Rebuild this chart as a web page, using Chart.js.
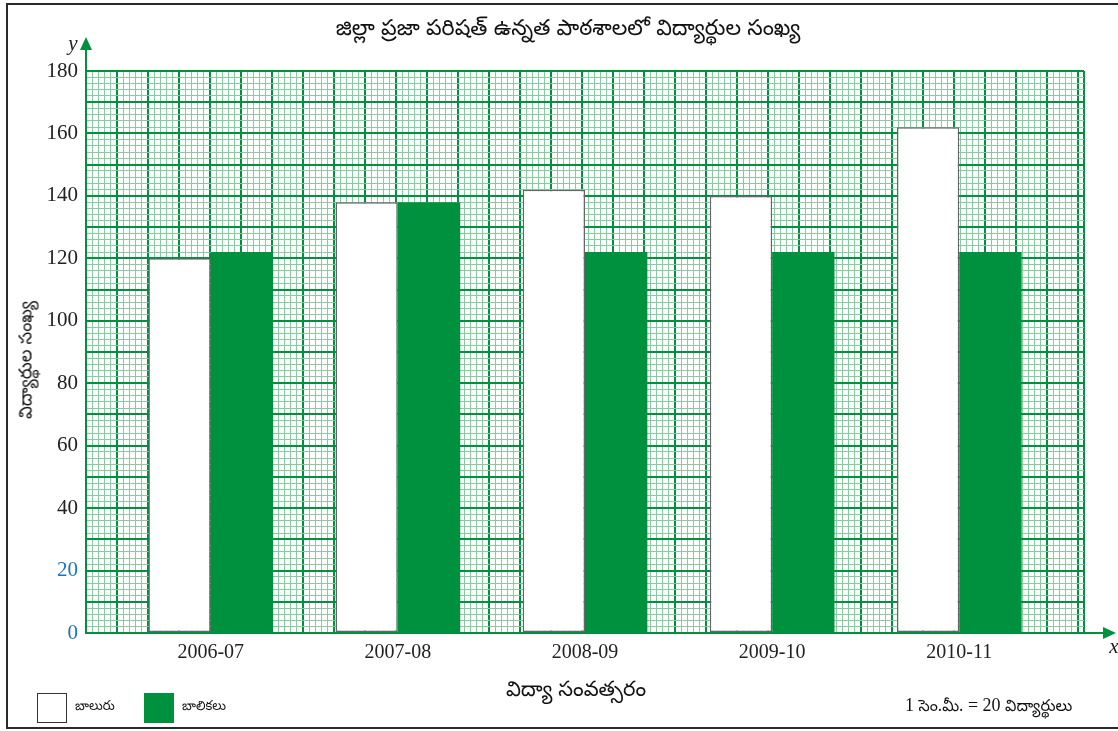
<!DOCTYPE html>
<html>
<head>
<meta charset="utf-8">
<script src="https://cdn.jsdelivr.net/npm/chart.js@4.4.1/dist/chart.umd.min.js"></script>
<style>
  body { margin: 0; background: #fff; width: 1118px; height: 731px; overflow: hidden; position: relative; }
  #frame { position: absolute; left: 6px; top: 3px; width: 1130px; height: 726px; border: 2px solid #2a2a2a; border-right: none; box-sizing: border-box; }
  #wrap { position: absolute; left: 0; top: 0; width: 1118px; height: 731px; }
  .te { position: absolute; font-family: 'Noto Sans Telugu', 'Noto Sans', sans-serif; color: #111; white-space: nowrap; }
  .box { position: absolute; width: 30px; height: 30px; box-sizing: border-box; }
</style>
</head>
<body>
<div id="frame"></div>
<div id="wrap"><canvas id="grafico-barra"></canvas></div>

<div class="te" id="titulo" style="left:0; width:1136px; top:16px; text-align:center; font-size:22px;">జిల్లా ప్రజా పరిషత్ ఉన్నత పాఠశాలలో విద్యార్థుల సంఖ్య</div>
<div class="te" style="left:28px; top:360px; font-size:18px; transform: translate(-50%, -50%) rotate(-90deg);">విద్యార్థుల సంఖ్య</div>
<div class="te" style="left:0; width:1152px; top:678px; text-align:center; font-size:21px;">విద్యా సంవత్సరం</div>

<div class="box" style="left:37px; top:693px; border:1.5px solid #333; background:#fff;"></div>
<div class="te" style="left:75px; top:699px; font-size:13px;">బాలురు</div>
<div class="box" style="left:144px; top:693px; background:#00913f;"></div>
<div class="te" style="left:182px; top:699px; font-size:13px;">బాలికలు</div>
<div class="te" style="left:905px; top:695px; font-size:16px;"><span style="font-family:'Liberation Serif',serif; font-size:18px;">1</span> సెం.మీ. <span style="font-family:'Liberation Serif',serif; font-size:18px;">= 20</span> విద్యార్థులు</div>

<script>
// dados do gráfico
const anos = ['2006-07', '2007-08', '2008-09', '2009-10', '2010-11'];
const bal = [120, 138, 142, 140, 162];      // బాలురు
const balikalu = [122, 138, 122, 122, 122]; // బాలికలు
const yTicks = [0, 20, 40, 60, 80, 100, 120, 140, 160, 180];

// posição de cada ano na folha quadriculada (16 colunas)
const posicoes = [2, 5, 8, 11, 14];
const nColunas = 16;

const rotulos = [];
const dadosBal = [];
const dadosBalikalu = [];
for (let i = 0; i <= nColunas; i++) {
  const k = posicoes.indexOf(i);
  rotulos.push(k >= 0 ? anos[k] : '');
  dadosBal.push(k >= 0 ? bal[k] : null);
  dadosBalikalu.push(k >= 0 ? balikalu[k] : null);
}

const verde = '#00913f';
const verdeClaro = '#86cc9e';

// valor do tick (pode vir indefinido)
const valorTick = ctx => (ctx.tick ? ctx.tick.value : 0);

// setas dos eixos
const setas = {
  id: 'setas',
  afterDraw(chart) {
    const { ctx, chartArea: a } = chart;
    ctx.save();
    ctx.strokeStyle = verde;
    ctx.fillStyle = verde;
    ctx.lineWidth = 2;
    ctx.beginPath();
    ctx.moveTo(a.left, a.top);
    ctx.lineTo(a.left, 48);
    ctx.moveTo(a.right, a.bottom);
    ctx.lineTo(a.right + 20, a.bottom);
    ctx.stroke();
    ctx.beginPath();
    ctx.moveTo(a.left, 37);
    ctx.lineTo(a.left - 6, 50);
    ctx.lineTo(a.left + 6, 50);
    ctx.closePath();
    ctx.fill();
    ctx.beginPath();
    ctx.moveTo(a.right + 32, a.bottom);
    ctx.lineTo(a.right + 19, a.bottom - 6);
    ctx.lineTo(a.right + 19, a.bottom + 6);
    ctx.closePath();
    ctx.fill();
    ctx.fillStyle = '#222';
    ctx.font = 'italic 21px "Liberation Serif", serif';
    ctx.textAlign = 'center';
    ctx.fillText('y', a.left - 13, 50);
    ctx.fillText('x', a.right + 30, a.bottom + 20);
    ctx.restore();
  }
};

new Chart(document.getElementById('grafico-barra').getContext('2d'), {
  type: 'bar',
  data: {
    labels: rotulos,
    datasets: [{
      label: 'బాలురు',
      data: dadosBal,
      backgroundColor: '#ffffff',
      borderColor: '#666',
      borderWidth: 1.5,
      borderSkipped: false
    }, {
      label: 'బాలికలు',
      data: dadosBalikalu,
      backgroundColor: verde,
      borderWidth: 0
    }]
  },
  options: {
    responsive: true,
    maintainAspectRatio: false,
    animation: false,
    categoryPercentage: 2,
    barPercentage: 1,
    layout: { padding: { top: 71, right: 34, left: 0, bottom: 0 } },
    plugins: {
      legend: { display: false },
      title: { display: false },
      tooltip: { enabled: false }
    },
    scales: {
      x: {
        type: 'category',
        offset: false,
        grid: { display: false },
        border: { color: verde, width: 2 },
        ticks: {
          autoSkip: false,
          maxRotation: 0,
          padding: 0,
          color: '#222',
          font: { family: 'Liberation Serif', size: 20 }
        },
        afterFit(scale) { scale.height = 98; }
      },
      xGrade: {
        type: 'linear',
        position: 'top',
        min: 0,
        max: nColunas * 10,
        grid: {
          drawTicks: false,
          color: ctx => (valorTick(ctx) % 5 === 0 ? verde : verdeClaro),
          lineWidth: ctx => (valorTick(ctx) % 5 === 0 ? 2 : 1)
        },
        border: { display: false },
        ticks: { display: false, stepSize: 1, maxTicksLimit: 500 },
        afterFit(scale) { scale.height = 0; }
      },
      y: {
        min: 0,
        max: 180,
        grid: {
          drawTicks: false,
          color: ctx => (valorTick(ctx) % 10 === 0 ? verde : verdeClaro),
          lineWidth: ctx => (valorTick(ctx) % 10 === 0 ? 2 : 1)
        },
        border: { color: verde, width: 2 },
        ticks: {
          stepSize: 2,
          maxTicksLimit: 200,
          autoSkip: false,
          padding: 8,
          callback: v => (yTicks.includes(v) ? v : ''),
          color: ctx => (valorTick(ctx) <= 20 ? '#1b75bb' : '#222'),
          font: { family: 'Liberation Serif', size: 21 }
        },
        afterFit(scale) { scale.width = 86; }
      }
    }
  },
  plugins: [setas]
});
</script>
</body>
</html>
